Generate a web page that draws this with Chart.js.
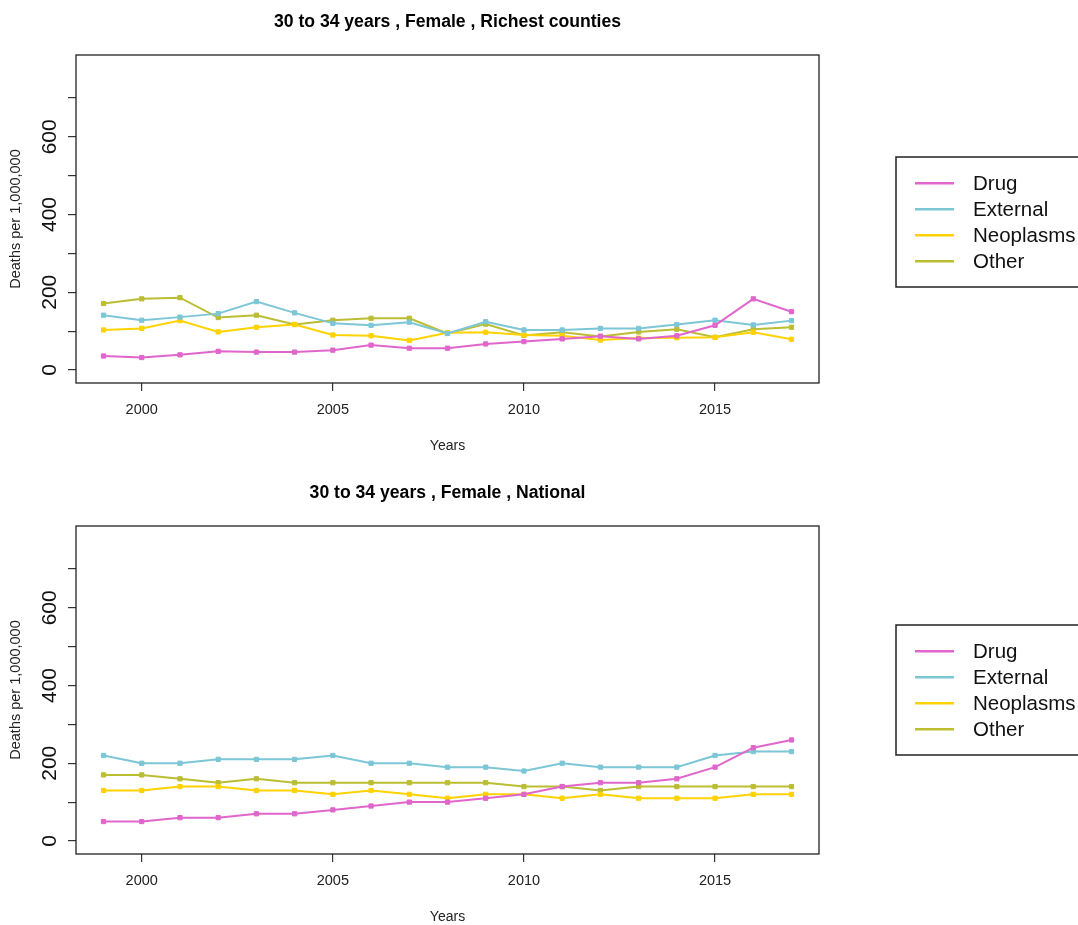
<!DOCTYPE html>
<html>
<head>
<meta charset="utf-8">
<script src="https://cdn.jsdelivr.net/npm/chart.js@4.4.1/dist/chart.umd.min.js"></script>
<style>
  html, body { margin: 0; padding: 0; background: #ffffff; overflow: hidden; }
  #wrap { position: relative; width: 1078px; height: 925px; }
  canvas { position: absolute; left: 0; }
</style>
</head>
<body>
<div id="wrap">
  <canvas id="richest" width="1078" height="471" style="top:0"></canvas>
  <canvas id="national" width="1078" height="454" style="top:471px"></canvas>
</div>
<script>
// Years covered by both panels
const years = [1999, 2000, 2001, 2002, 2003, 2004, 2005, 2006, 2007, 2008,
               2009, 2010, 2011, 2012, 2013, 2014, 2015, 2016, 2017];

// Causes of death (legend order)
const causes = ['Drug', 'External', 'Neoplasms', 'Other'];

// Deaths per 1,000,000 — women aged 30 to 34, richest counties
const richestDrug      = [36, 32, 39, 48, 46, 46, 51, 64, 56, 56, 67, 73, 80, 87, 80, 88, 115, 183, 150];
const richestExternal  = [141, 128, 136, 145, 176, 147, 120, 115, 123, 94, 124, 103, 103, 107, 107, 117, 128, 116, 127];
const richestNeoplasms = [103, 107, 127, 98, 110, 117, 90, 88, 76, 96, 97, 90, 88, 77, 82, 83, 84, 97, 79];
const richestOther     = [171, 183, 186, 135, 141, 117, 128, 133, 133, 94, 118, 89, 97, 86, 98, 105, 84, 105, 110];

// Deaths per 1,000,000 — women aged 30 to 34, national
const nationalDrug      = [50, 50, 60, 60, 70, 70, 80, 90, 100, 100, 110, 120, 140, 150, 150, 160, 190, 240, 260];
const nationalExternal  = [220, 200, 200, 210, 210, 210, 220, 200, 200, 190, 190, 180, 200, 190, 190, 190, 220, 230, 230];
const nationalNeoplasms = [130, 130, 140, 140, 130, 130, 120, 130, 120, 110, 120, 120, 110, 120, 110, 110, 110, 120, 120];
const nationalOther     = [170, 170, 160, 150, 160, 150, 150, 150, 150, 150, 150, 140, 140, 130, 140, 140, 140, 140, 140];

// Axis ticks
const xTicks = [2000, 2005, 2010, 2015];
const yTicks = [0, 100, 200, 300, 400, 500, 600, 700];
const yLabelled = [0, 200, 400, 600];

const palette = ['#E066CC', '#7CC6D6', '#FFD200', '#BBBD33'];
const FONT = '"Liberation Sans", Arial, Helvetica, sans-serif';

function makeDatasets(series) {
  return series.map((vals, i) => ({
    label: causes[i],
    data: years.map((yr, k) => ({ x: yr, y: vals[k] })),
    borderColor: palette[i],
    backgroundColor: palette[i],
    borderWidth: 2,
    tension: 0,
    pointStyle: 'rect',
    pointRadius: 3,
    pointBorderWidth: 1,
    pointBorderColor: palette[i],
    pointBackgroundColor: palette[i],
    pointHoverRadius: 3
  }));
}

// Frame, titles, rotated y labels and the boxed legend in base-graphics style
const decorations = {
  id: 'decorations',
  afterDraw(chart, args, opts) {
    const ctx = chart.ctx;
    const area = chart.chartArea;
    const yScale = chart.scales.y;
    ctx.save();

    // plot frame
    ctx.strokeStyle = '#222';
    ctx.lineWidth = 1.3;
    ctx.strokeRect(area.left, area.top, area.right - area.left, area.bottom - area.top);

    // main title
    ctx.fillStyle = '#000';
    ctx.font = 'bold 17.6px ' + FONT;
    ctx.textAlign = 'center';
    ctx.textBaseline = 'alphabetic';
    ctx.fillText(opts.title, (area.left + area.right) / 2, opts.titleBaseline);

    // x axis title
    ctx.fillStyle = '#222';
    ctx.font = '14px ' + FONT;
    ctx.textBaseline = 'middle';
    ctx.fillText('Years', (area.left + area.right) / 2, area.bottom + 63);

    // y tick labels, rotated like base graphics
    ctx.font = '21px ' + FONT;
    ctx.fillStyle = '#111';
    yLabelled.forEach(v => {
      const py = yScale.getPixelForValue(v);
      ctx.save();
      ctx.translate(56, py);
      ctx.rotate(-Math.PI / 2);
      ctx.textAlign = 'center';
      ctx.textBaseline = 'alphabetic';
      ctx.fillText(String(v), 0, 0);
      ctx.restore();
    });

    // y axis title
    ctx.save();
    ctx.font = '14.5px ' + FONT;
    ctx.fillStyle = '#222';
    ctx.translate(19.5, (area.top + area.bottom) / 2);
    ctx.rotate(-Math.PI / 2);
    ctx.textAlign = 'center';
    ctx.textBaseline = 'alphabetic';
    ctx.fillText('Deaths per 1,000,000', 0, 0);
    ctx.restore();

    // legend box
    const lt = opts.legendTop;
    ctx.strokeStyle = '#222';
    ctx.lineWidth = 1.5;
    ctx.strokeRect(896, lt, 220, 130);
    ctx.font = '20.5px ' + FONT;
    ctx.textAlign = 'left';
    ctx.textBaseline = 'middle';
    chart.data.datasets.forEach((ds, i) => {
      const ly = lt + 26.3 + i * 26;
      ctx.strokeStyle = ds.borderColor;
      ctx.lineWidth = 2.5;
      ctx.beginPath();
      ctx.moveTo(915, ly);
      ctx.lineTo(954, ly);
      ctx.stroke();
      ctx.fillStyle = '#111';
      ctx.fillText(ds.label, 973, ly + 1);
    });

    ctx.restore();
  }
};

function buildChart(id, series, title, titleBaseline, legendTop, xHeight) {
  return new Chart(document.getElementById(id), {
    type: 'line',
    data: { datasets: makeDatasets(series) },
    plugins: [decorations],
    options: {
      responsive: false,
      animation: false,
      devicePixelRatio: 1,
      layout: { padding: { top: 55, right: 259, left: 0, bottom: 0 } },
      plugins: {
        legend: { display: false },
        tooltip: { enabled: false },
        decorations: { title, titleBaseline, legendTop }
      },
      scales: {
        x: {
          type: 'linear',
          min: 1998.28,
          max: 2017.72,
          afterBuildTicks: s => { s.ticks = xTicks.map(v => ({ value: v })); },
          afterFit: s => { s.height = xHeight; },
          grid: { drawOnChartArea: false, drawTicks: true, tickLength: 8, tickColor: '#333', lineWidth: 1.2 },
          border: { display: false },
          ticks: {
            padding: 10,
            maxRotation: 0,
            color: '#222',
            font: { family: FONT, size: 14.5 },
            callback: v => String(v)
          }
        },
        y: {
          type: 'linear',
          min: -33.5,
          max: 810.5,
          afterBuildTicks: s => { s.ticks = yTicks.map(v => ({ value: v })); },
          afterFit: s => { s.width = 76; },
          grid: { drawOnChartArea: false, drawTicks: true, tickLength: 8, tickColor: '#333', lineWidth: 1.2 },
          border: { display: false },
          ticks: { callback: () => '', padding: 0 }
        }
      }
    }
  });
}

buildChart('richest',
  [richestDrug, richestExternal, richestNeoplasms, richestOther],
  '30 to 34 years , Female , Richest counties', 27, 157, 88);

buildChart('national',
  [nationalDrug, nationalExternal, nationalNeoplasms, nationalOther],
  '30 to 34 years , Female , National', 27.3, 154, 71);
</script>
</body>
</html>
